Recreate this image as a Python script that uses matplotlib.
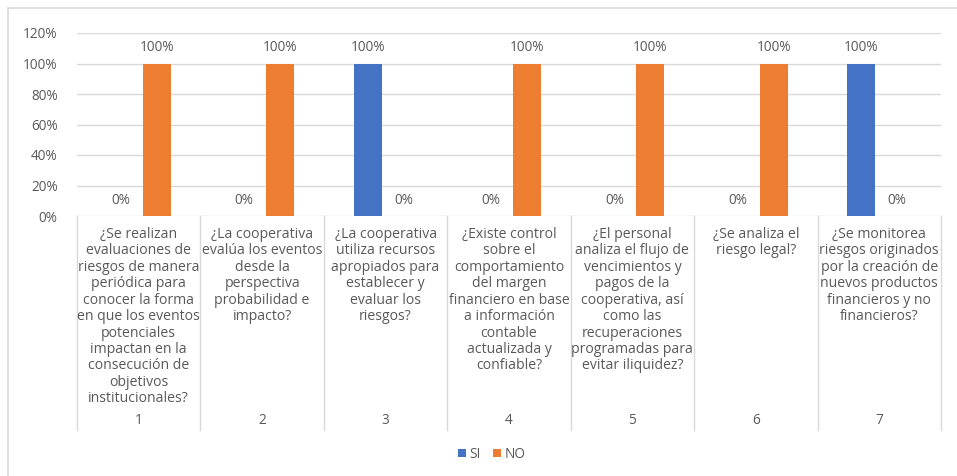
import matplotlib
matplotlib.use("Agg")
import matplotlib.pyplot as plt
from matplotlib.patches import Rectangle
from matplotlib.ticker import PercentFormatter

plt.rcParams['font.family'] = ['Open Sans', 'DejaVu Sans']

# Data
question_ids = ["1", "2", "3", "4", "5", "6", "7"]
questions = [
    "¿Se realizan\nevaluaciones de\nriesgos de manera\nperiódica para\nconocer la forma\nen que los eventos\npotenciales\nimpactan en la\nconsecución de\nobjetivos\ninstitucionales?",
    "¿La cooperativa\nevalúa los eventos\ndesde la\nperspectiva\nprobabilidad e\nimpacto?",
    "¿La cooperativa\nutiliza recursos\napropiados para\nestablecer y\nevaluar los\nriesgos?",
    "¿Existe control\nsobre el\ncomportamiento\ndel margen\nfinanciero en base\na información\ncontable\nactualizada y\nconfiable?",
    "¿El personal\nanaliza el flujo de\nvencimientos y\npagos de la\ncooperativa, así\ncomo las\nrecuperaciones\nprogramadas para\nevitar iliquidez?",
    "¿Se analiza el\nriesgo legal?",
    "¿Se monitorea\nriesgos originados\npor la creación de\nnuevos productos\nfinancieros y no\nfinancieros?",
]
si_values = [0, 0, 100, 0, 0, 0, 100]
no_values = [100, 100, 0, 100, 100, 100, 0]
series_names = ["SI", "NO"]

BLUE = "#4472C4"
ORANGE = "#ED7D31"
TEXT = "#595959"
GRID = "#D9D9D9"
FS = 9.8
FS_CAT = 10.1

W, H = 957, 476
fig = plt.figure(figsize=(W / 100, H / 100), dpi=100)

# chart frame
fig.patches.append(Rectangle((8 / W, -0.1), 1.2, 1 - 8 / H + 0.1, transform=fig.transFigure,
                             fill=False, edgecolor="#D9D9D9", linewidth=1.2))

ax = fig.add_axes([77 / W, 1 - 216 / H, (941 - 77) / W, (216 - 33) / H])
x = list(range(len(questions)))
width = 0.227
offset = 0.146
bars_si = ax.bar([i - offset for i in x], si_values, width, color=BLUE, label=series_names[0], zorder=3)
bars_no = ax.bar([i + offset for i in x], no_values, width, color=ORANGE, label=series_names[1], zorder=3)

for bars in (bars_si, bars_no):
    for b in bars:
        v = b.get_height()
        ax.annotate(f"{v:.0f}%", (b.get_x() + b.get_width() / 2, v),
                    xytext=(0, 11.5), textcoords="offset points",
                    ha="center", va="center", fontsize=FS, color=TEXT)

ax.set_xlim(-0.5, len(questions) - 0.5)
ax.set_ylim(0, 120)
ax.set_yticks(range(0, 121, 20))
ax.yaxis.set_major_formatter(PercentFormatter(decimals=0))
ax.tick_params(axis="y", length=0, pad=14, labelsize=FS, labelcolor=TEXT)
ax.set_xticks([])
ax.grid(axis="y", color=GRID, linewidth=1, zorder=0)
for s in ax.spines.values():
    s.set_visible(False)

# multi-level category axis
px = 1 / (216 - 33)  # one pixel in axes-fraction units
xt = ax.get_xaxis_transform()
for k in range(len(questions) + 1):
    ax.plot([k - 0.5, k - 0.5], [0, -(430 - 216) * px], transform=xt,
            color=GRID, linewidth=1, clip_on=False)
for i, (q, n) in enumerate(zip(questions, question_ids)):
    ax.text(i, -(227 - 216) * px, q, transform=xt, ha="center", va="top",
            fontsize=FS_CAT, color=TEXT, linespacing=1.13, multialignment="center")
    ax.text(i, -(421 - 216) * px, n, transform=xt, ha="center", va="center",
            fontsize=FS, color=TEXT)

fig.legend(handles=[bars_si, bars_no], labels=series_names, loc="center",
           bbox_to_anchor=(492 / W, 1 - 454 / H), ncol=2, frameon=False,
           fontsize=FS, labelcolor=TEXT, handlelength=0.55, handleheight=0.55,
           handletextpad=0.3, columnspacing=0.9)

fig.savefig("out.png", dpi=100, facecolor="white")
